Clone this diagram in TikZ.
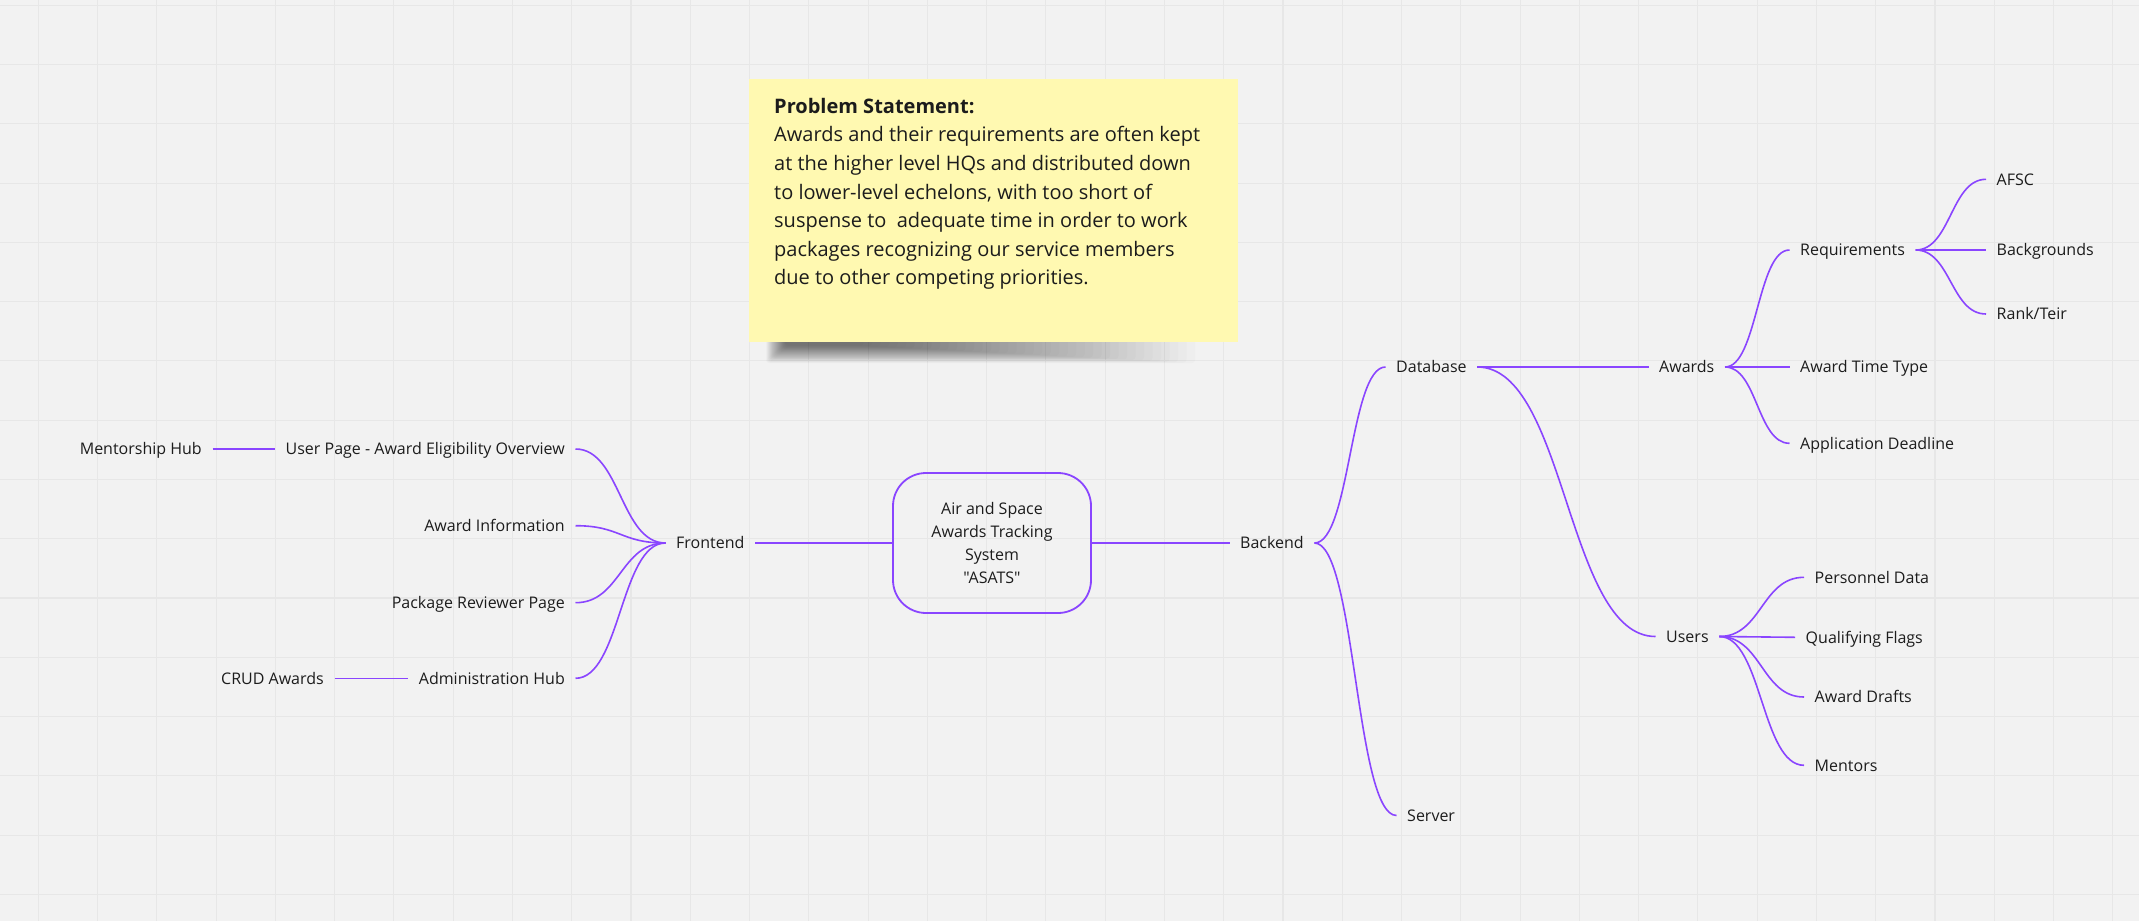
\documentclass[tikz,border=0pt]{standalone}
\usepackage{fontspec}
\setmainfont{Open Sans}[Ligatures=TeXOff]
\usetikzlibrary{calc}
\definecolor{bg}{HTML}{F2F2F2}
\definecolor{gridc}{HTML}{E7E7E7}
\definecolor{vio}{HTML}{8A45FF}
\definecolor{stickyc}{HTML}{FFF9B1}
\definecolor{ink}{HTML}{1C1C1C}
\newcommand\mmcurve[2]{\draw[conn] (#1) .. controls ($(#1)!0.5!(#2 |- #1)$) and ($(#2)!0.5!(#1 |- #2)$) .. (#2);}
\begin{document}
\begin{tikzpicture}[x=1pt,y=-1pt,
  lbl/.style={inner xsep=10.5pt, inner ysep=0pt, text height=11.4pt, text depth=0pt,
    font=\fontsize{16}{19}\selectfont, text=ink},
  conn/.style={draw=vio, line width=1.6pt},
  gridline/.style={draw=gridc, line width=1.1pt}]
% background and grid
\fill[bg] (0,0) rectangle (2139,921);
\useasboundingbox (0,0) rectangle (2139,921);
\foreach \i in {0,...,35} \draw[gridline] ({38.3+59.27*\i},0) -- ++(0,921);
\foreach \j in {0,...,15} \draw[gridline] (0,{5.3+59.27*\j}) -- ++(2139,0);

% sticky note with soft shadow
\foreach \k in {0,...,39}
  \fill[black, opacity=0.014, rounded corners=3pt] ({766+\k*0.5},336) rectangle ({1195-\k*8.5},{363-\k*0.45});
\node[fill=stickyc, minimum width=489pt, minimum height=263pt, inner sep=0pt, anchor=north west] (note) at (749,79) {};
\node[anchor=base west, inner sep=0pt, font=\fontsize{20}{28.6}\selectfont, text=ink] (stmt) at (774,113.3)
  {\vtop{\hsize=470pt\parindent=0pt\parskip=0pt\raggedright
  \textbf{Problem Statement:}\par
  Awards and their requirements are often kept\par
  at the higher level HQs and distributed down\par
  to lower-level echelons, with too short of\par
  suspense to\ \ adequate time in order to work\par
  packages recognizing our service members\par
  due to other competing priorities.}};

% central node
\node[draw=vio, line width=1.8pt, rounded corners=33pt, minimum width=198pt, minimum height=140pt,
  inner sep=0pt, align=center, font=\fontsize{16}{22.8}\selectfont, text=ink] (asats) at (992,543)
  {Air and Space\\Awards Tracking\\System\\"ASATS"};

% left branch
\node[lbl, anchor=west] (frontend) at (665.5,543) {Frontend};
\node[lbl, anchor=east] (userpage) at (575.5,449) {User Page - Award Eligibility Overview};
\node[lbl, anchor=east] (awardinfo) at (575.5,525.7) {Award Information};
\node[lbl, anchor=east] (pkgrev) at (575.5,602.7) {Package Reviewer Page};
\node[lbl, anchor=east] (adminhub) at (575.5,678.3) {Administration Hub};
\node[lbl, anchor=east] (mentorship) at (212.5,449) {Mentorship Hub};
\node[lbl, anchor=east] (crud) at (334.5,678.3) {CRUD Awards};

% right branch
\node[lbl, anchor=west] (backend) at (1229.5,543) {Backend};
\node[lbl, anchor=west] (database) at (1385.5,367) {Database};
\node[lbl, anchor=west] (server) at (1396.5,815.5) {Server};
\node[lbl, anchor=west] (awards) at (1648.5,367) {Awards};
\node[lbl, anchor=west] (users) at (1655.5,636.5) {Users};
\node[lbl, anchor=west] (requirements) at (1789.5,250) {Requirements};
\node[lbl, anchor=west] (awardtime) at (1789.5,367) {Award Time Type};
\node[lbl, anchor=west] (appdeadline) at (1789.5,443.3) {Application Deadline};
\node[lbl, anchor=west] (afsc) at (1986,179.3) {AFSC};
\node[lbl, anchor=west] (backgrounds) at (1986,250) {Backgrounds};
\node[lbl, anchor=west] (rankteir) at (1986,314) {Rank/Teir};
\node[lbl, anchor=west] (personnel) at (1804,577.3) {Personnel Data};
\node[lbl, anchor=west] (qualifying) at (1795,637.3) {Qualifying Flags};
\node[lbl, anchor=west] (drafts) at (1804,697) {Award Drafts};
\node[lbl, anchor=west] (mentors) at (1804,765.3) {Mentors};

% connectors
\draw[conn] (mentorship.east) -- (userpage.west);
\draw[conn] (crud.east) -- (adminhub.west);
\mmcurve{userpage.east}{frontend.west}
\mmcurve{awardinfo.east}{frontend.west}
\mmcurve{pkgrev.east}{frontend.west}
\mmcurve{adminhub.east}{frontend.west}
\draw[conn] (frontend.east) -- (asats.west);
\draw[conn] (asats.east) -- (backend.west);
\mmcurve{backend.east}{database.west}
\mmcurve{backend.east}{server.west}
\draw[conn] (database.east) -- (awards.west);
\mmcurve{database.east}{users.west}
\mmcurve{awards.east}{requirements.west}
\mmcurve{awards.east}{awardtime.west}
\mmcurve{awards.east}{appdeadline.west}
\mmcurve{requirements.east}{afsc.west}
\mmcurve{requirements.east}{backgrounds.west}
\mmcurve{requirements.east}{rankteir.west}
\mmcurve{users.east}{personnel.west}
\mmcurve{users.east}{qualifying.west}
\mmcurve{users.east}{drafts.west}
\mmcurve{users.east}{mentors.west}
\end{tikzpicture}
\end{document}
